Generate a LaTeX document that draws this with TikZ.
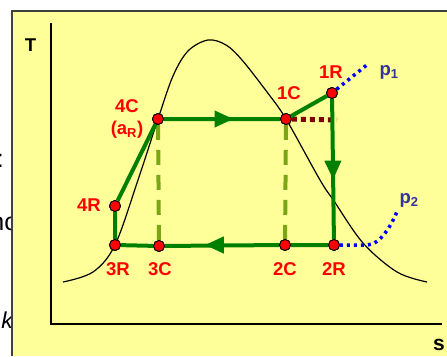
\documentclass[tikz,border=0pt]{standalone}
\usepackage{fontspec}
\setmainfont{Liberation Sans}
\usetikzlibrary{arrows.meta,positioning,calc}
\definecolor{SlideYellow}{RGB}{255,255,153}
\definecolor{CycleGreen}{RGB}{0,128,0}
\definecolor{DashOlive}{RGB}{122,165,20}
\definecolor{StateRed}{RGB}{255,0,0}
\definecolor{DarkRed}{RGB}{128,0,0}
\definecolor{IsoBlue}{RGB}{0,0,255}
\definecolor{LabelNavy}{RGB}{51,51,153}
\tikzset{
  state/.style={circle,draw=black,fill=StateRed,line width=0.9pt,
    minimum size=11pt,inner sep=0pt},
  lbl/.style={text=StateRed,font=\fontsize{18.5}{20}\selectfont\bfseries,
    inner sep=0pt,align=center},
  flow/.style={CycleGreen,line width=4pt},
  tip/.style={CycleGreen,line width=4pt,-{Triangle[length=19pt,width=16pt]}},
  vdash/.style={DashOlive,line width=4pt,dash pattern=on 15pt off 10pt},
  isobar/.style={IsoBlue,line width=3.5pt,dash pattern=on 3pt off 4pt}
}

\begin{document}
\begin{tikzpicture}[x=1pt,y=-1pt]
\useasboundingbox (0,0) rectangle (447,356);

% cut-off text of the slide behind
\node[anchor=base east,inner sep=0pt,font=\fontsize{25}{27}\selectfont] (frag1) at (4,167) {:};
\node[anchor=base east,inner sep=0pt,font=\fontsize{25}{27}\selectfont] (frag2) at (17,230) {nc};
\node[anchor=base east,inner sep=0pt,font=\fontsize{23}{25}\selectfont\itshape] (frag3) at (13,328) {k};

% panel
\fill[SlideYellow] (12,11) rectangle (447,356);
\draw[black!75,line width=1.8pt] (12,356) -- (12,11) -- (447,11);

% axes
\draw[line width=2pt] (51,23) -- (51,324) -- (442,324);
\node[font=\fontsize{18.5}{20}\selectfont\bfseries,inner sep=0pt] (tax) at (30.5,45) {T};
\node[font=\fontsize{21}{22}\selectfont\bfseries,inner sep=0pt] (sax) at (439,345) {s};

% saturation dome
\draw[line width=1.2pt] plot[smooth,tension=0.55] coordinates {
  (63,282) (93,272) (115,245) (138,180) (158,119) (173,76) (188,51)
  (208,40) (226,45) (242,60) (267,92) (286,119) (320,180) (334,201)
  (363,243) (397,272) (427,282)};

% states
\node[state] (c4) at (158,119) {};
\node[state] (c1) at (286,119) {};
\node[state] (r1) at (332,93) {};
\node[state] (r2) at (334,245) {};
\node[state] (c2) at (285,245) {};
\node[state] (c3) at (159,246) {};
\node[state] (r3) at (115,245) {};
\node[state] (r4) at (115,206) {};

\coordinate (p1end) at (368,64);
\coordinate (p2mid) at (367,245);
\coordinate (p2end) at (398,209);
\coordinate (dotend) at (337,120);

% state labels
\node[lbl] (l4c) at (127,119) {4C\\[2pt](a\textsubscript{R})};
\node[lbl] (l1c) at (289,93) {1C};
\node[lbl] (l1r) at (331,72) {1R};
\node[lbl] (l4r) at (89,205) {4R};
\node[lbl] (l3r) at (118,269) {3R};
\node[lbl] (l3c) at (160,269) {3C};
\node[lbl] (l2c) at (285,269) {2C};
\node[lbl] (l2r) at (334,269) {2R};

% isobars
\draw[isobar] (r1) -- (p1end);
\draw[isobar] (r2) -- (p2mid) .. controls (380,245) and (392,225) .. (p2end);
\node[text=LabelNavy,font=\fontsize{18.5}{20}\selectfont\bfseries,inner sep=0pt]
  (p1) at (389,72) {p\textsubscript{1}};
\node[text=LabelNavy,font=\fontsize{18.5}{20}\selectfont\bfseries,inner sep=0pt]
  (p2) at (409,200) {p\textsubscript{2}};

% dashed verticals and dotted line
\draw[vdash] (c4) -- (c3);
\draw[vdash] (c1) -- (c2);
\draw[DarkRed,line width=5pt,dash pattern=on 5pt off 4pt] (c1) -- (dotend);

% cycle
\draw[flow] (c4) -- (c1) -- (r1) -- (r2) -- (c2) -- (c3) -- (r3) -- (r4) -- (c4);
\draw[tip] ($(c4)!0.55!(c1)$) -- ($(c4)!0.59!(c1)$);
\draw[tip] ($(r1)!0.53!(r2)$) -- ($(r1)!0.57!(r2)$);
\draw[tip] ($(r2)!0.55!(r3)$) -- ($(r2)!0.59!(r3)$);

% redraw states on top
\foreach \s in {c4,c1,r1,r2,c2,c3,r3,r4}
  \node[state] at (\s) {};
\end{tikzpicture}
\end{document}
